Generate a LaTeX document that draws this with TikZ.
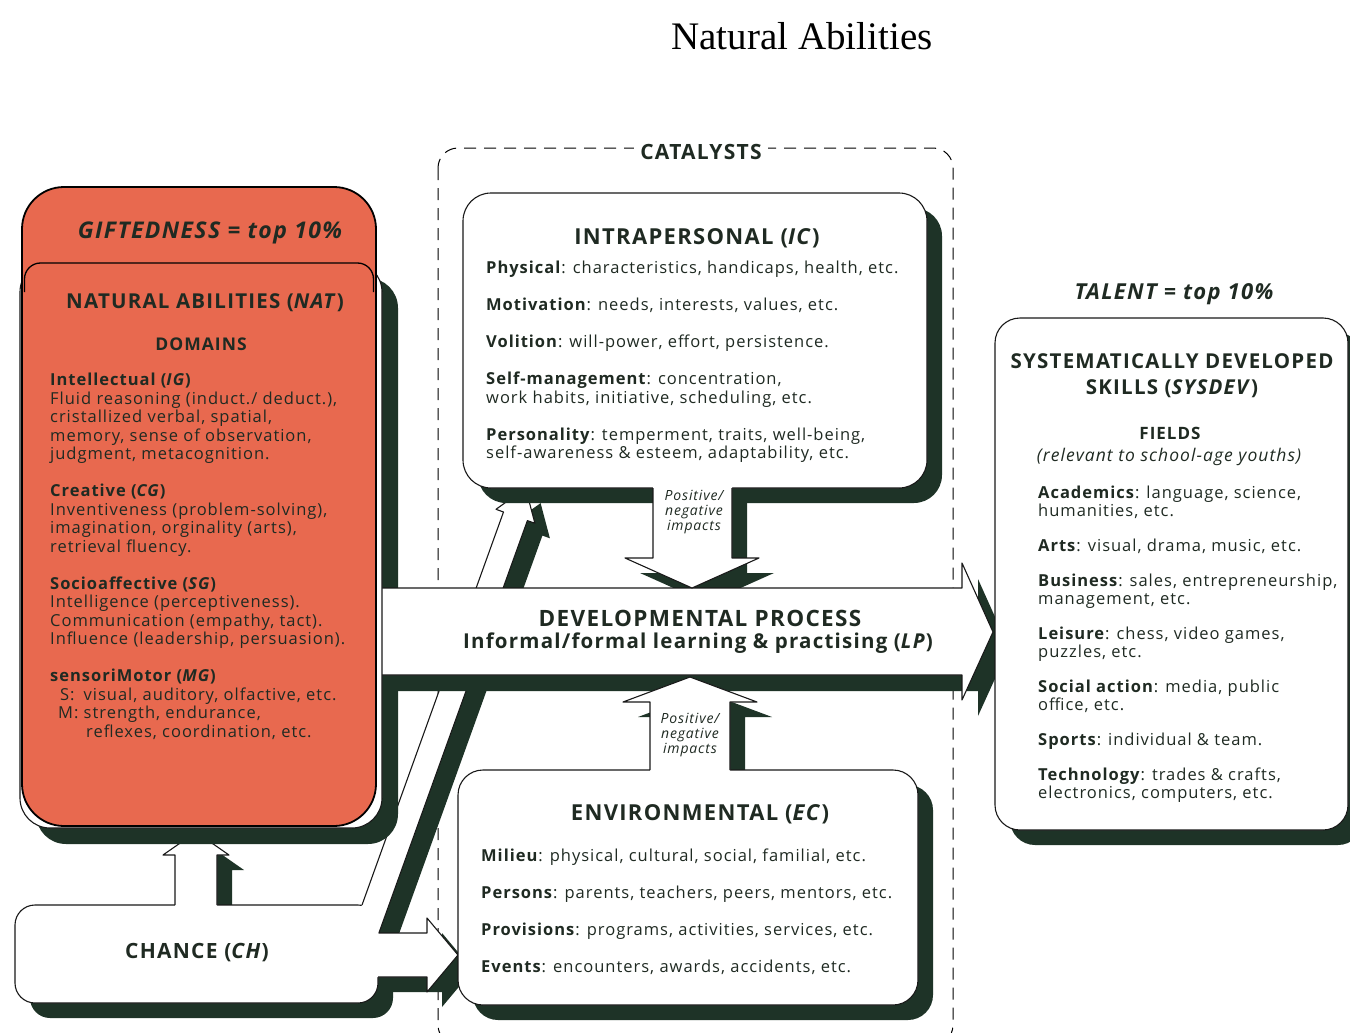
\documentclass[tikz,border=0pt]{standalone}
\usepackage{fontspec}
\setmainfont{Open Sans}[LetterSpace=6]
\newfontfamily\titlefont{Liberation Serif}
\definecolor{shdc}{HTML}{1E3327}
\definecolor{orangec}{HTML}{E8694F}
\definecolor{txt}{HTML}{1F2A22}
\newcommand\PchUp{(175,910) -- (175,855) -- (163,855) -- (196,832) -- (229,855) -- (217,855) -- (217,910) -- cycle}
\newcommand\PchBand{(349.4,940) -- (503.5,512) -- (496,509.3) -- (525.6,488.1) -- (534.9,523.3) -- (527.4,520.6) -- (376.4,940) -- cycle}
\newcommand\PchRight{(360,933) -- (427,933) -- (427,918) -- (458,955) -- (427,992) -- (427,977) -- (360,977) -- cycle}
\newcommand\Pproc{(370,588) -- (962,588) -- (962,563) -- (993,632) -- (962,700) -- (962,675) -- (370,675) -- cycle}
\newcommand\PintraArrow{(653,483) -- (653,558) -- (625,558) -- (692,588) -- (759,558) -- (732,558) -- (732,483) -- cycle}
\newcommand\PenvArrow{(650,775) -- (650,702) -- (623,702) -- (690,677) -- (757,702) -- (730,702) -- (730,775) -- cycle}
\begin{document}
\begin{tikzpicture}[x=1pt,y=-1pt,
  outl/.style={draw=black!90, line width=1.1pt, line join=round},
  card/.style={fill=white, draw=black!90, line width=1.1pt},
  body/.style={font=\fontsize{16.5}{18.5}\selectfont, text=txt, align=left, anchor=north west, inner sep=0pt},
  hd/.style={font=\fontsize{22}{24}\selectfont\bfseries, text=txt, inner sep=0pt},
  imp/.style={font=\fontsize{14}{15}\selectfont\itshape, text=txt, align=center, inner sep=0pt}]
\useasboundingbox (0,0) rectangle (1350,1033);
\fill[white] (0,0) rectangle (1350,1033);

% title
\node[font=\titlefont\fontsize{39}{44}\selectfont, text=black] (title) at (802,36) {Natural Abilities};

% catalysts frame
\draw[line width=1pt, dash pattern=on 12pt off 8pt, rounded corners=20] (438,148) rectangle (953,1045);
\node[fill=white, font=\fontsize{21}{22}\selectfont\bfseries, text=txt, inner xsep=6pt, inner ysep=2pt] (cat) at (701,152) {CATALYSTS};

% ---------- chance layer
\begin{scope}[shift={(15,15)}]
  \fill[shdc, rounded corners=20] (15,905) rectangle (378,1003);
  \fill[shdc] \PchUp;
  \fill[shdc] \PchBand;
  \fill[shdc] \PchRight;
\end{scope}
\filldraw[card, rounded corners=20] (15,905) rectangle (378,1003);
\fill[white] \PchUp;
\fill[white] \PchBand;
\fill[white] \PchRight;
\draw[outl] (175,905) -- (175,855) -- (163,855) -- (196,832) -- (229,855) -- (217,855) -- (217,905);
\draw[outl] (362,905) -- (503.5,512) -- (496,509.3) -- (525.6,488.1) -- (534.9,523.3) -- (527.4,520.6) -- (378.9,933) -- (427,933) -- (427,918) -- (458,955) -- (427,992) -- (427,977) -- (378,977);

% ---------- main layer shadows
\begin{scope}[shift={(16,16)}]
  \fill[shdc, rounded corners=30] (20,262) rectangle (382,828);
  \fill[shdc] \Pproc;
\end{scope}
\begin{scope}[shift={(15,15)}]
  \fill[shdc, rounded corners=28] (463,193) rectangle (927,488);
  \fill[shdc] \PintraArrow;
  \fill[shdc, rounded corners=25] (458,770) rectangle (918,1005);
  \fill[shdc] \PenvArrow;
  \fill[shdc, rounded corners=25] (995,318) rectangle (1348,830);
\end{scope}

% process arrow
\fill[white] \Pproc;
\draw[outl] (380,588) -- (962,588) -- (962,563) -- (993,632) -- (962,700) -- (962,675) -- (380,675);

% natural abilities
\filldraw[card, rounded corners=30] (20,262) rectangle (382,828);
\filldraw[fill=orangec, draw=black, line width=1.8pt, rounded corners=42] (22,187) rectangle (376,826);
\draw[line width=1.3pt, rounded corners=16] (24.5,292) -- (24.5,263) -- (373.5,263) -- (373.5,292);

% intrapersonal
\filldraw[card, rounded corners=28] (463,193) rectangle (927,488);
\fill[white] \PintraArrow;
\draw[outl] (653,488) -- (653,558) -- (625,558) -- (692,588) -- (759,558) -- (732,558) -- (732,488);

% environmental
\filldraw[card, rounded corners=25] (458,770) rectangle (918,1005);
\fill[white] \PenvArrow;
\draw[outl] (650,770) -- (650,702) -- (623,702) -- (690,677) -- (757,702) -- (730,702) -- (730,770);

% talent
\filldraw[card, rounded corners=25] (995,318) rectangle (1348,830);

% ---------- texts
\node[font=\fontsize{23}{26}\selectfont\bfseries\itshape, text=txt] (gift) at (210,233) {GIFTEDNESS = top 10\%};
\node[hd, font=\fontsize{20.5}{22}\selectfont\bfseries] (nathd) at (205,303) {NATURAL ABILITIES (\textit{NAT})};
\node[font=\fontsize{17.5}{18}\selectfont\bfseries, text=txt] (dom) at (201,344) {DOMAINS};
\node[body] (natbody) at (50,373) {\textbf{Intellectual (\textit{IG})}\\
Fluid reasoning (induct./ deduct.),\\
cristallized verbal, spatial,\\
memory, sense of observation,\\
judgment, metacognition.\\[18.5pt]
\textbf{Creative (\textit{CG})}\\
Inventiveness (problem-solving),\\
imagination, orginality (arts),\\
retrieval fluency.\\[18.5pt]
\textbf{Socioaffective (\textit{SG})}\\
Intelligence (perceptiveness).\\
Communication (empathy, tact).\\
Influence (leadership, persuasion).\\[18.5pt]
\textbf{sensoriMotor (\textit{MG})}\\
\hspace*{10pt}S:\hspace*{9pt}visual, auditory, olfactive, etc.\\
\hspace*{8pt}M: strength, endurance,\\
\hspace*{36pt}reflexes, coordination, etc.};

\node[hd] (intrahd) at (697,238) {INTRAPERSONAL (\textit{IC})};
\node[body] (intrabody) at (486,261) {\textbf{Physical}: characteristics, handicaps, health, etc.\\[18.5pt]
\textbf{Motivation}: needs, interests, values, etc.\\[18.5pt]
\textbf{Volition}: will-power, effort, persistence.\\[18.5pt]
\textbf{Self-management}: concentration,\\
work habits, initiative, scheduling, etc.\\[18.5pt]
\textbf{Personality}: temperment, traits, well-being,\\
self-awareness \& esteem, adaptability, etc.};

\node[imp] (imp1) at (694,512) {Positive/\\negative\\impacts};
\node[imp] (imp2) at (690,735) {Positive/\\negative\\impacts};

\node[hd, font=\fontsize{22.5}{24}\selectfont\bfseries] (proc1) at (700,618) {DEVELOPMENTAL PROCESS};
\node[hd, font=\fontsize{20.5}{24}\selectfont\bfseries] (proc2) at (698,643) {Informal/formal learning \& practising (\textit{LP})};

\node[hd] (envhd) at (700,814) {ENVIRONMENTAL (\textit{EC})};
\node[body] (envbody) at (481,849) {\textbf{Milieu}: physical, cultural, social, familial, etc.\\[18.5pt]
\textbf{Persons}: parents, teachers, peers, mentors, etc.\\[18.5pt]
\textbf{Provisions}: programs, activities, services, etc.\\[18.5pt]
\textbf{Events}: encounters, awards, accidents, etc.};

\node[hd, font=\fontsize{21}{22}\selectfont\bfseries] (chhd) at (197,953) {CHANCE (\textit{CH})};

\node[font=\fontsize{22}{24}\selectfont\bfseries\itshape, text=txt] (talent) at (1174,294) {TALENT = top 10\%};
\node[hd, font=\fontsize{20.5}{26}\selectfont\bfseries, align=center] (talhd) at (1172,376) {SYSTEMATICALLY DEVELOPED\\SKILLS (\textit{SYSDEV})};
\node[font=\fontsize{17}{18}\selectfont\bfseries, text=txt] (fields) at (1170,433) {FIELDS};
\node[font=\fontsize{17.5}{18}\selectfont\itshape, text=txt] (relev) at (1169,457) {(relevant to school-age youths)};
\node[body, font=\fontsize{16.5}{17.7}\selectfont] (talbody) at (1038,486) {\textbf{Academics}: language, science,\\
humanities, etc.\\[17.5pt]
\textbf{Arts}: visual, drama, music, etc.\\[17.5pt]
\textbf{Business}: sales, entrepreneurship,\\
management, etc.\\[17.5pt]
\textbf{Leisure}: chess, video games,\\
puzzles, etc.\\[17.5pt]
\textbf{Social action}: media, public\\
office, etc.\\[17.5pt]
\textbf{Sports}: individual \& team.\\[17.5pt]
\textbf{Technology}: trades \& crafts,\\
electronics, computers, etc.};
\end{tikzpicture}
\end{document}
